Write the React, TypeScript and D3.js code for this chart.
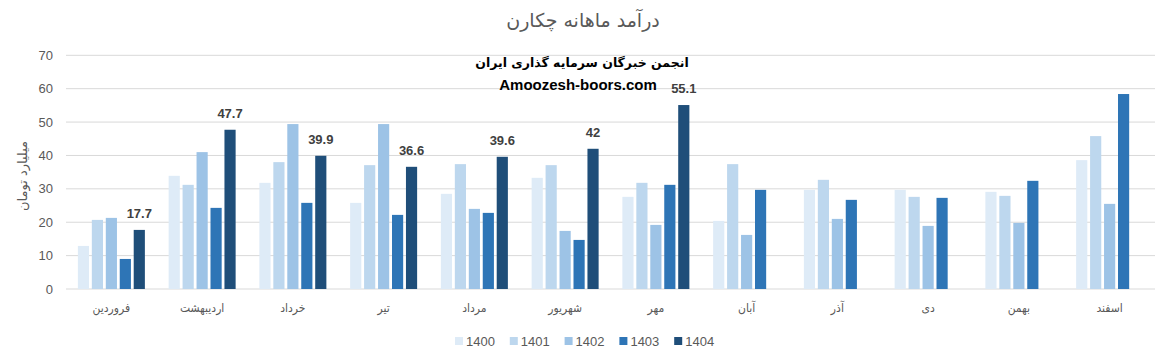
import React from "react";
import * as d3 from "d3";

const months = ["فروردین", "اردیبهشت", "خرداد", "تیر", "مرداد", "شهریور", "مهر", "آبان", "آذر", "دی", "بهمن", "اسفند"];
const seriesNames = ["1400", "1401", "1402", "1403", "1404"];
const colors = ["#DEEBF7", "#BDD7EE", "#9DC3E6", "#2E75B6", "#1F4E79"];
const v1400 = [12.9, 33.9, 31.8, 25.8, 28.5, 33.3, 27.6, 20.4, 29.7, 29.7, 29.1, 38.6];
const v1401 = [20.7, 31.2, 38.0, 37.1, 37.4, 37.1, 31.8, 37.4, 32.7, 27.6, 27.9, 45.8];
const v1402 = [21.3, 41.0, 49.4, 49.4, 24.0, 17.4, 19.2, 16.2, 21.0, 18.9, 19.8, 25.5];
const v1403 = [9.0, 24.3, 25.8, 22.2, 22.8, 14.7, 31.2, 29.7, 26.7, 27.3, 32.4, 58.4];
const v1404: (number | null)[] = [17.7, 47.7, 39.9, 36.6, 39.6, 42, 55.1, null, null, null, null, null];
const yTicks = [0, 10, 20, 30, 40, 50, 60, 70];

const W = 1163;
const H = 361;

export default function App() {
  const all = [v1400, v1401, v1402, v1403, v1404];
  const x = d3.scaleBand<string>().domain(months).range([66, 1155]);
  const inner = d3.scaleBand<string>().domain(seriesNames).range([-33.5, 33.5]).paddingInner(0.2);
  const y = d3.scaleLinear().domain([0, 70]).range([289, 55.3]);
  const textCol = "#595959";
  return (
    <svg width={W} height={H} style={{ position: "absolute", left: 0, top: 0, background: "#fff" }}>
      <text x={583} y={27} textAnchor="middle" fontFamily="DejaVu Sans" fontSize={19} fill={textCol}>
        درآمد ماهانه چکارن
      </text>
      {yTicks.map((t) => (
        <g key={t}>
          <line x1={66} x2={1155} y1={y(t)} y2={y(t)} stroke="#D9D9D9" strokeWidth={1} />
          <text x={53} y={y(t) + 4.5} textAnchor="end" fontFamily="Liberation Sans" fontSize={13} fill={textCol}>
            {t}
          </text>
        </g>
      ))}
      <text
        transform={`translate(27,176) rotate(-90)`}
        textAnchor="middle"
        fontFamily="DejaVu Sans"
        fontSize={13}
        fill={textCol}
      >
        میلیارد تومان
      </text>
      {all.map((vals, si) =>
        vals.map((v, i) =>
          v == null ? null : (
            <rect
              key={si + "-" + i}
              x={(x(months[i]) as number) + x.bandwidth() / 2 + (inner(seriesNames[si]) as number)}
              y={y(v)}
              width={inner.bandwidth()}
              height={y(0) - y(v)}
              fill={colors[si]}
            />
          )
        )
      )}
      {v1404.map((v, i) =>
        v == null ? null : (
          <text
            key={"l" + i}
            x={(x(months[i]) as number) + x.bandwidth() / 2 + (inner("1404") as number) + inner.bandwidth() / 2}
            y={y(v) - 12}
            textAnchor="middle"
            fontFamily="Liberation Sans"
            fontWeight="bold"
            fontSize={13}
            fill="#404040"
          >
            {v}
          </text>
        )
      )}
      {months.map((m) => (
        <text
          key={m}
          x={(x(m) as number) + x.bandwidth() / 2}
          y={312}
          textAnchor="middle"
          fontFamily="DejaVu Sans Condensed"
          fontSize={12}
          fill={textCol}
        >
          {m}
        </text>
      ))}
      <text x={582} y={67} textAnchor="middle" fontFamily="DejaVu Sans" fontWeight="bold" fontSize={12.5} fill="#000">
        انجمن خبرگان سرمایه گذاری ایران
      </text>
      <text x={578} y={90} textAnchor="middle" fontFamily="Liberation Sans" fontWeight="bold" fontSize={15} fill="#000">
        Amoozesh-boors.com
      </text>
      {seriesNames.map((s, i) => (
        <g key={s} transform={`translate(${455 + i * 54.8},337)`}>
          <rect x={0} y={0} width={8} height={8} fill={colors[i]} />
          <text x={11} y={8.5} fontFamily="Liberation Sans" fontSize={13} fill={textCol}>
            {s}
          </text>
        </g>
      ))}
    </svg>
  );
}
